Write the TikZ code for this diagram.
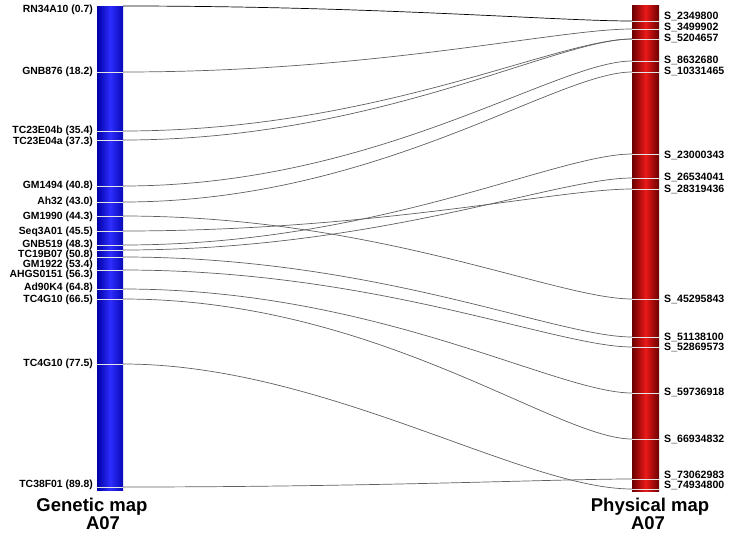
\documentclass[tikz,border=0pt]{standalone}
\usepackage{fontspec}
\setmainfont{Liberation Sans}
\definecolor{gedge}{RGB}{0,0,165}
\definecolor{gmid}{RGB}{45,45,255}
\definecolor{pedge}{RGB}{105,0,0}
\definecolor{pmid}{RGB}{235,25,25}
\definecolor{linkgray}{RGB}{95,95,95}
\begin{document}
\begin{tikzpicture}[x=1pt,y=-1pt,
  link/.style={draw=linkgray,line width=0.7pt},
  tick/.style={draw=white!80!gray,line width=0.8pt},
  glabel/.style={anchor=east,inner sep=0pt,font=\fontsize{10.4}{11}\selectfont\bfseries},
  plabel/.style={anchor=west,inner sep=0pt,font=\fontsize{10.6}{11}\selectfont\bfseries},
  maptitle/.style={anchor=base,inner sep=0pt,font=\fontsize{18.5}{19}\selectfont\bfseries}]
\useasboundingbox (0,0) rectangle (730,533);

% the two maps
\shade[left color=gedge,right color=gedge!80!gmid,middle color=gmid] (97,6) rectangle (123,490);
\shade[left color=pedge,right color=pedge,middle color=pmid] (632,5) rectangle (659,491);

% genetic map markers
\coordinate (g1) at (123,6);
\coordinate (g2) at (123,72);
\coordinate (g3) at (123,131);
\coordinate (g4) at (123,140);
\coordinate (g5) at (123,186);
\coordinate (g6) at (123,202);
\coordinate (g7) at (123,216);
\coordinate (g8) at (123,231);
\coordinate (g9) at (123,245);
\coordinate (g10) at (123,250);
\coordinate (g11) at (123,257);
\coordinate (g12) at (123,270);
\coordinate (g13) at (123,289);
\coordinate (g14) at (123,299);
\coordinate (g15) at (123,364);
\coordinate (g16) at (123,487);

% physical map markers
\coordinate (p1) at (632,21);
\coordinate (p2) at (632,29);
\coordinate (p3) at (632,39);
\coordinate (p4) at (632,61);
\coordinate (p5) at (632,72);
\coordinate (p6) at (632,154);
\coordinate (p7) at (632,178);
\coordinate (p8) at (632,189);
\coordinate (p9) at (632,299);
\coordinate (p10) at (632,337);
\coordinate (p11) at (632,347);
\coordinate (p12) at (632,393);
\coordinate (p13) at (632,439);
\coordinate (p14) at (632,479);
\coordinate (p15) at (632,489);

\draw[tick] (g2) -- ++(-26,0);
\draw[tick] (g3) -- ++(-26,0);
\draw[tick] (g4) -- ++(-26,0);
\draw[tick] (g5) -- ++(-26,0);
\draw[tick] (g6) -- ++(-26,0);
\draw[tick] (g7) -- ++(-26,0);
\draw[tick] (g8) -- ++(-26,0);
\draw[tick] (g9) -- ++(-26,0);
\draw[tick] (g10) -- ++(-26,0);
\draw[tick] (g11) -- ++(-26,0);
\draw[tick] (g12) -- ++(-26,0);
\draw[tick] (g13) -- ++(-26,0);
\draw[tick] (g14) -- ++(-26,0);
\draw[tick] (g15) -- ++(-26,0);
\draw[tick] (g16) -- ++(-26,0);

\draw[tick] (p1) -- ++(27,0);
\draw[tick] (p2) -- ++(27,0);
\draw[tick] (p3) -- ++(27,0);
\draw[tick] (p4) -- ++(27,0);
\draw[tick] (p5) -- ++(27,0);
\draw[tick] (p6) -- ++(27,0);
\draw[tick] (p7) -- ++(27,0);
\draw[tick] (p8) -- ++(27,0);
\draw[tick] (p9) -- ++(27,0);
\draw[tick] (p10) -- ++(27,0);
\draw[tick] (p11) -- ++(27,0);
\draw[tick] (p12) -- ++(27,0);
\draw[tick] (p13) -- ++(27,0);
\draw[tick] (p14) -- ++(27,0);
\draw[tick] (p15) -- ++(27,0);

% links between the maps
\draw[link,draw=black] (g1) .. controls +(254,0) and +(-76,0) .. (p1);
\draw[link] (g2) .. controls +(254,0) and +(-76,0) .. (p2);
\draw[link] (g3) .. controls +(254,0) and +(-76,0) .. (p3);
\draw[link] (g4) .. controls +(254,0) and +(-76,0) .. (p3);
\draw[link] (g5) .. controls +(254,0) and +(-76,0) .. (p4);
\draw[link] (g6) .. controls +(254,0) and +(-76,0) .. (p5);
\draw[link] (g7) .. controls +(254,0) and +(-76,0) .. (p9);
\draw[link] (g8) .. controls +(254,0) and +(-76,0) .. (p8);
\draw[link] (g9) .. controls +(254,0) and +(-76,0) .. (p6);
\draw[link] (g10) .. controls +(254,0) and +(-76,0) .. (p7);
\draw[link] (g11) .. controls +(254,0) and +(-76,0) .. (p10);
\draw[link] (g12) .. controls +(254,0) and +(-76,0) .. (p11);
\draw[link] (g13) .. controls +(254,0) and +(-76,0) .. (p12);
\draw[link] (g14) .. controls +(254,0) and +(-76,0) .. (p13);
\draw[link] (g15) .. controls +(200,0) and +(-110,0) .. (p15);
\draw[link] (g16) .. controls +(254,0) and +(-76,0) .. (p14);

% genetic map labels
\node[glabel] (lg1) at (93,10) {RN34A10 (0.7)};
\node[glabel] (lg2) at (93,72) {GNB876 (18.2)};
\node[glabel] (lg3) at (93,131) {TC23E04b (35.4)};
\node[glabel] (lg4) at (93,142) {TC23E04a (37.3)};
\node[glabel] (lg5) at (93,186) {GM1494 (40.8)};
\node[glabel] (lg6) at (93,202) {Ah32 (43.0)};
\node[glabel] (lg7) at (93,217) {GM1990 (44.3)};
\node[glabel] (lg8) at (93,232) {Seq3A01 (45.5)};
\node[glabel] (lg9) at (93,245) {GNB519 (48.3)};
\node[glabel] (lg10) at (93,255) {TC19B07 (50.8)};
\node[glabel] (lg11) at (93,265) {GM1922 (53.4)};
\node[glabel] (lg12) at (93,275) {AHGS0151 (56.3)};
\node[glabel] (lg13) at (93,288) {Ad90K4 (64.8)};
\node[glabel] (lg14) at (93,300) {TC4G10 (66.5)};
\node[glabel] (lg15) at (93,364) {TC4G10 (77.5)};
\node[glabel] (lg16) at (93,485) {TC38F01 (89.8)};

% physical map labels
\node[plabel] (lp1) at (664,16) {S\_2349800};
\node[plabel] (lp2) at (664,27) {S\_3499902};
\node[plabel] (lp3) at (664,38) {S\_5204657};
\node[plabel] (lp4) at (664,60) {S\_8632680};
\node[plabel] (lp5) at (664,71) {S\_10331465};
\node[plabel] (lp6) at (664,155) {S\_23000343};
\node[plabel] (lp7) at (664,177) {S\_26534041};
\node[plabel] (lp8) at (664,189) {S\_28319436};
\node[plabel] (lp9) at (664,299) {S\_45295843};
\node[plabel] (lp10) at (664,337) {S\_51138100};
\node[plabel] (lp11) at (664,347) {S\_52869573};
\node[plabel] (lp12) at (664,392) {S\_59736918};
\node[plabel] (lp13) at (664,439) {S\_66934832};
\node[plabel] (lp14) at (664,475) {S\_73062983};
\node[plabel] (lp15) at (664,485) {S\_74934800};

% titles
\node[maptitle] (gtitle) at (92,511) {Genetic map};
\node[maptitle] (gname) at (103,529) {A07};
\node[maptitle] (ptitle) at (650,511) {Physical map};
\node[maptitle] (pname) at (648,529) {A07};
\end{tikzpicture}
\end{document}
